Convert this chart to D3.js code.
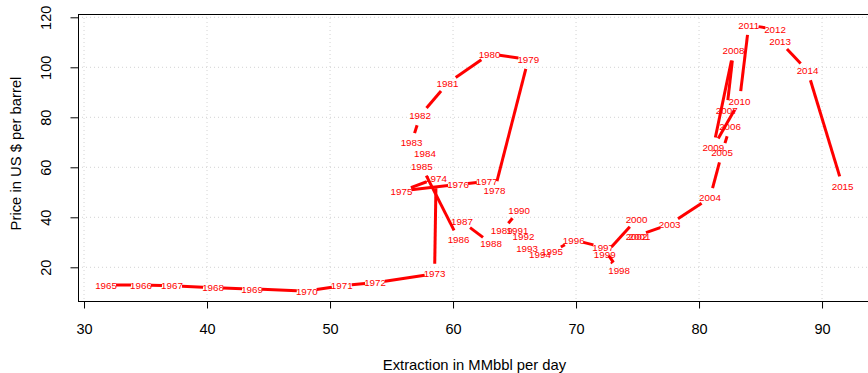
<!DOCTYPE html>
<html>
<head>
<meta charset="utf-8">
<script src="https://cdn.jsdelivr.net/npm/d3@7"></script>
<style>
  body { margin: 0; background: #fff; }
  text { font-family: "Liberation Sans", Arial, Helvetica, sans-serif; }
</style>
</head>
<body>
<div id="chart"></div>
<script>
// years, oil extraction (MMbbl/day) and price (US $ per barrel)
const years = [1965, 1966, 1967, 1968, 1969, 1970, 1971, 1972, 1973, 1974,
               1975, 1976, 1977, 1978, 1979, 1980, 1981, 1982, 1983, 1984,
               1985, 1986, 1987, 1988, 1989, 1990, 1991, 1992, 1993, 1994,
               1995, 1996, 1997, 1998, 1999, 2000, 2001, 2002, 2003, 2004,
               2005, 2006, 2007, 2008, 2009, 2010, 2011, 2012, 2013, 2014, 2015];
const extraction = [31.79, 34.63, 37.15, 40.49, 43.66, 48.11, 50.95, 53.66, 58.50, 58.62,
                    55.81, 60.41, 62.74, 63.37, 66.12, 62.97, 59.55, 57.32, 56.63, 57.72,
                    57.46, 60.45, 60.73, 63.09, 63.96, 65.37, 65.24, 65.73, 66.02, 67.07,
                    68.05, 69.81, 72.20, 73.50, 72.33, 74.92, 75.16, 74.92, 77.61, 80.89,
                    81.87, 82.52, 82.25, 82.80, 81.16, 83.29, 84.04, 86.18, 86.59, 88.82, 91.67];
const price = [12.92, 12.92, 12.64, 11.84, 11.32, 10.52, 12.64, 13.84, 17.44, 55.6,
               50.52, 53.2, 54.24, 50.64, 103.2, 105.32, 93.6, 80.64, 69.84, 65.6,
               60.24, 31.2, 38.24, 29.6, 34.64, 42.64, 34.64, 32.24, 27.6, 25.2,
               26.24, 30.92, 28.0, 18.64, 25.2, 39.2, 32.52, 32.52, 37.2, 47.84,
               65.84, 76.24, 82.92, 106.64, 68.0, 86.52, 116.92, 115.2, 110.24, 98.64, 52.52];
const xTicks = [30, 40, 50, 60, 70, 80, 90];
const yTicks = [20, 40, 60, 80, 100, 120];

const data = years.map((y, i) => ({ year: y, x: extraction[i], y: price[i] }));

const W = 868, H = 373;
const plot = { left: 78, right: 871, top: 14, bottom: 301 };

const svg = d3.select("#chart").append("svg")
    .attr("width", W)
    .attr("height", H);

const x = d3.scaleLinear().domain([29.51, 93.98]).range([plot.left, plot.right]);
const y = d3.scaleLinear().domain([6.52, 121.32]).range([plot.bottom, plot.top]);

// grid (dotted light gray, like R grid())
svg.append("g").selectAll("line")
    .data(xTicks)
    .join("line")
    .attr("x1", d => x(d)).attr("x2", d => x(d))
    .attr("y1", plot.top).attr("y2", plot.bottom)
    .attr("stroke", "#d3d3d3")
    .attr("stroke-dasharray", "1,3");
svg.append("g").selectAll("line")
    .data(yTicks)
    .join("line")
    .attr("x1", plot.left).attr("x2", plot.right)
    .attr("y1", d => y(d)).attr("y2", d => y(d))
    .attr("stroke", "#d3d3d3")
    .attr("stroke-dasharray", "1,3");

// box
svg.append("rect")
    .attr("x", plot.left + 0.5).attr("y", plot.top + 0.5)
    .attr("width", plot.right - plot.left)
    .attr("height", plot.bottom - plot.top)
    .attr("fill", "none")
    .attr("stroke", "#000");

// axes
const xAxis = svg.append("g")
    .attr("transform", `translate(0,${plot.bottom + 0.5})`)
    .call(d3.axisBottom(x).tickValues(xTicks).tickSize(7).tickPadding(15));
const yAxis = svg.append("g")
    .attr("transform", `translate(${plot.left + 0.5},0)`)
    .call(d3.axisLeft(y).tickValues(yTicks).tickSize(8).tickPadding(0));

[xAxis, yAxis].forEach(a => {
    a.select(".domain").remove();
    a.selectAll("text").attr("font-size", "14.5px").attr("fill", "#000")
        .attr("font-family", "Liberation Sans, Arial, sans-serif");
});
// R draws the axis line only from first to last tick
svg.append("line")
    .attr("x1", x(30)).attr("x2", x(90))
    .attr("y1", plot.bottom + 0.5).attr("y2", plot.bottom + 0.5)
    .attr("stroke", "#000");
svg.append("line")
    .attr("x1", plot.left + 0.5).attr("x2", plot.left + 0.5)
    .attr("y1", y(20)).attr("y2", y(120))
    .attr("stroke", "#000");

// y tick labels are vertical in R
yAxis.selectAll(".tick text")
    .attr("x", 0)
    .attr("dy", null)
    .attr("text-anchor", "middle")
    .attr("dominant-baseline", "central")
    .attr("transform", "translate(-33,0) rotate(-90)");

// axis titles
svg.append("text")
    .attr("x", (plot.left + plot.right) / 2)
    .attr("y", 365)
    .attr("text-anchor", "middle")
    .attr("dominant-baseline", "central")
    .attr("font-size", "14.8px")
    .text("Extraction in MMbbl per day");
svg.append("text")
    .attr("transform", `translate(16,${(plot.top + plot.bottom) / 2 - 4}) rotate(-90)`)
    .attr("text-anchor", "middle")
    .attr("dominant-baseline", "central")
    .attr("font-size", "14.8px")
    .text("Price in US $ per barrel");

// lines with gaps round the points (type = "c")
const gap = 10;
const segs = [];
for (let i = 1; i < data.length; i++) {
    const x1 = x(data[i - 1].x), y1 = y(data[i - 1].y);
    const x2 = x(data[i].x), y2 = y(data[i].y);
    const d = Math.hypot(x2 - x1, y2 - y1);
    if (d <= 2 * gap) continue;
    const ux = (x2 - x1) / d, uy = (y2 - y1) / d;
    segs.push({ x1: x1 + ux * gap, y1: y1 + uy * gap, x2: x2 - ux * gap, y2: y2 - uy * gap });
}
svg.append("g").selectAll("line")
    .data(segs)
    .join("line")
    .attr("x1", d => d.x1).attr("y1", d => d.y1)
    .attr("x2", d => d.x2).attr("y2", d => d.y2)
    .attr("stroke", "#ff0000")
    .attr("stroke-width", 3);

// year labels
svg.append("g").selectAll("text")
    .data(data)
    .join("text")
    .attr("x", d => x(d.x))
    .attr("y", d => y(d.y))
    .attr("text-anchor", "middle")
    .attr("dominant-baseline", "central")
    .attr("font-size", "9.8px")
    .attr("fill", "#ff0000")
    .text(d => d.year);
</script>
</body>
</html>
